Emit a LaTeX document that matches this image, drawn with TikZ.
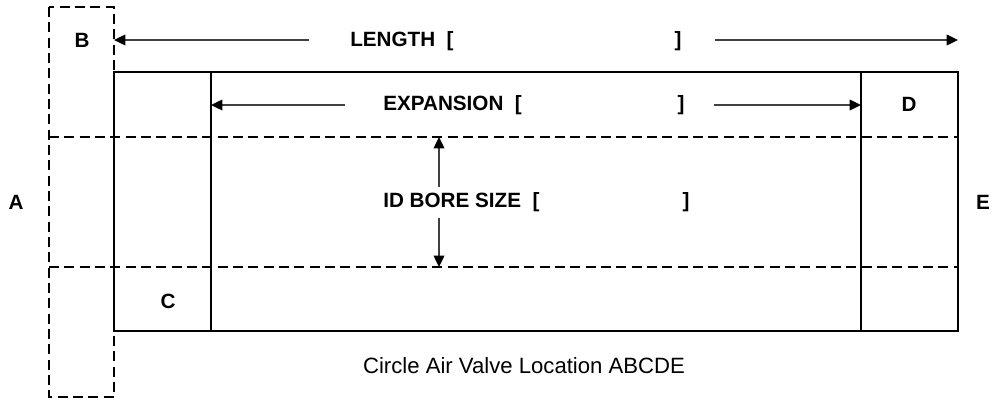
\documentclass[tikz,border=0pt]{standalone}
\usepackage{fontspec}
\setmainfont{Liberation Sans}
\usetikzlibrary{arrows.meta}
\begin{document}
\begin{tikzpicture}[x=0.75pt,y=-0.75pt,
  solidline/.style={draw=black,line width=0.8pt},
  dashline/.style={draw=black,line width=0.8pt,dash pattern=on 7.5pt off 4pt},
  dimline/.style={draw=black!75,line width=1pt,-{Triangle[length=8.5pt,width=8pt,color=black]}},
  lbl/.style={inner sep=0pt,font=\fontsize{15.5pt}{18pt}\selectfont\bfseries},
  captext/.style={inner sep=0pt,font=\fontsize{16.6pt}{19pt}\selectfont}]
\useasboundingbox (0,0) rectangle (998,399);
% dashed valve rectangle
\draw[dashline] (49,7) rectangle (114,397);
% dashed horizontal lines
\draw[dashline] (49,137) -- (958,137);
\draw[dashline] (49,267) -- (958,267);
% main body
\draw[solidline,fill=none] (114,72) rectangle (958,331);
\draw[solidline] (211,72) -- (211,331);
\draw[solidline] (861,72) -- (861,331);
% coordinates
\coordinate (lenL) at (309,40);
\coordinate (lenLtip) at (114,40);
\coordinate (lenR) at (715,40);
\coordinate (lenRtip) at (958,40);
\coordinate (expL) at (345,105);
\coordinate (expLtip) at (211,105);
\coordinate (expR) at (714,105);
\coordinate (expRtip) at (861,105);
\coordinate (idT) at (439,187);
\coordinate (idTtip) at (439,137);
\coordinate (idB) at (439,218);
\coordinate (idBtip) at (439,267);
% dimension arrows
\draw[dimline] (lenL) -- (lenLtip);
\draw[dimline] (lenR) -- (lenRtip);
\draw[dimline] (expL) -- (expLtip);
\draw[dimline] (expR) -- (expRtip);
\draw[dimline] (idT) -- (idTtip);
\draw[dimline] (idB) -- (idBtip);
% labels
\node[lbl] (B) at (82,40) {B};
\node[lbl,anchor=west] (length) at (350,41) {LENGTH\ \ [};
\node[lbl] (lengthR) at (678,41) {]};
\node[lbl,anchor=west] (expansion) at (383,105) {EXPANSION\ \ [};
\node[lbl] (expansionR) at (681,105) {]};
\node[lbl] (D) at (909,104) {D};
\node[lbl] (A) at (16,202) {A};
\node[lbl] (E) at (983,202) {E};
\node[lbl,anchor=west] (idbore) at (383,202) {ID BORE SIZE\ \ [};
\node[lbl] (idboreR) at (686,202) {]};
\node[lbl] (C) at (168,301) {C};
\node[captext] (caption) at (524,366) {Circle Air Valve Location ABCDE};
\end{tikzpicture}
\end{document}
